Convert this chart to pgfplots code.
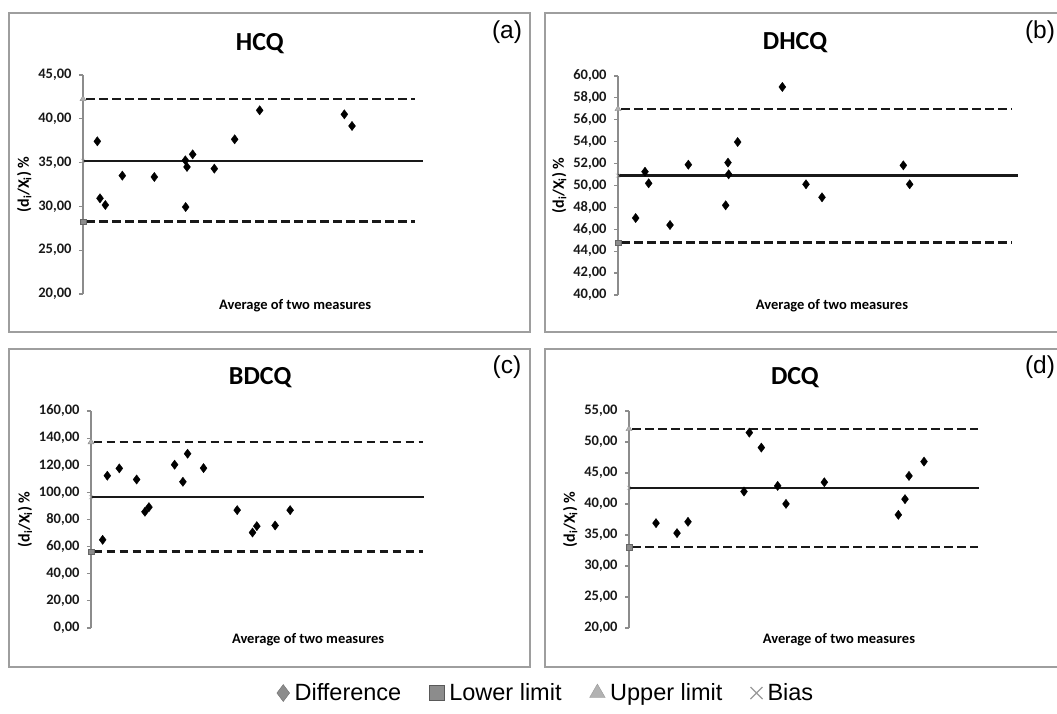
\documentclass[border=0pt]{standalone}
\usepackage{fontspec}
\setmainfont{Carlito}
\newfontfamily\arial{Liberation Sans}
\usepackage{pgfplots}
\pgfplotsset{compat=1.18}

\pgfplotsset{
  ba/.style={
    scale only axis, anchor=south west, clip=false,
    axis lines*=left, x axis line style={draw=none}, xtick=\empty, xmin=0,
    y axis line style={draw=black!45, line width=1.2pt},
    ytick style={draw=black!45, line width=1.2pt},
    tick align=outside, major tick length=4pt,
    yticklabel style={font=\bfseries\fontsize{14.5}{16}\selectfont, text=black!90, xshift=-4pt},
    /pgf/number format/fixed, /pgf/number format/fixed zerofill,
    /pgf/number format/precision=2, /pgf/number format/use comma,
    /pgf/number format/assume math mode=true,
    title style={font=\bfseries\fontsize{26}{28}\selectfont, anchor=center, yshift=0pt},
    xlabel={Average of two measures},
    xlabel style={font=\bfseries\fontsize{14.5}{16}\selectfont, anchor=center},
    ylabel={(d\textsubscript{i}/X\textsubscript{i}) \%},
    ylabel style={font=\bfseries\fontsize{16}{18}\selectfont},
  },
  diff/.style={only marks, mark=diamond*, mark size=4.6pt, black},
  lim/.style={black!90, line width=2.7pt, dash pattern=on 8.5pt off 4.5pt},
  bias/.style={black!90, line width=2.3pt},
  up/.style={only marks, mark=triangle*, mark size=3.5pt, draw=black!45, fill=black!30},
  lo/.style={only marks, mark=square*, mark size=2.8pt, draw=black!60, fill=black!45},
  bx/.style={only marks, mark=x, mark size=3pt, black!30},
}

\begin{document}
\begin{tikzpicture}
\path[use as bounding box] (0pt,0pt) rectangle (1057pt,713pt);

% frames
\draw[black!38, line width=1.3pt] (9pt,381pt) rectangle (530pt,700pt);
\draw[black!38, line width=1.3pt] (545pt,381pt) rectangle (1070pt,700pt);
\draw[black!38, line width=1.3pt] (9pt,46pt) rectangle (530pt,364pt);
\draw[black!38, line width=1.3pt] (545pt,46pt) rectangle (1070pt,364pt);

\node[font=\arial\fontsize{24.5}{28}\selectfont] at (507pt,681pt) {(a)};
\node[font=\arial\fontsize{24.5}{28}\selectfont] at (1040pt,681pt) {(b)};
\node[font=\arial\fontsize{24.5}{28}\selectfont] at (507pt,346pt) {(c)};
\node[font=\arial\fontsize{24.5}{28}\selectfont] at (1040pt,346pt) {(d)};

% (a) HCQ
\begin{axis}[ba, at={(83pt,419pt)}, width=340pt, height=219pt,
  xmax=102, ymin=20, ymax=45, ytick={20,25,...,45},
  title={HCQ}, title style={at={(axis description cs:0.52,1.118)}},
  xlabel style={at={(axis description cs:0.624,-0.055)}}]
\addplot[lim] coordinates {(1,42.26) (99.7,42.26)};
\addplot[lim] coordinates {(1,28.24) (99.7,28.24)};
\addplot[bias] coordinates {(0,35.2) (102,35.2)};
\addplot[up] coordinates {(0,42.26)};
\addplot[lo] coordinates {(0,28.24)};
\addplot[bx] coordinates {(0,35.2)};
\addplot[diff] coordinates {
(4.3,37.43) (5.1,30.92) (6.7,30.16) (11.8,33.51) (21.4,33.36)
(30.7,35.26) (31.2,34.50) (32.9,35.94) (30.8,29.93) (39.4,34.31)
(45.5,37.66) (53.0,40.97) (78.4,40.51) (80.7,39.18)};
\end{axis}

% (b) DHCQ
\begin{axis}[ba, at={(618pt,418pt)}, width=400pt, height=219pt,
  xmax=120, ymin=40, ymax=60, ytick={40,42,...,60},
  title={DHCQ}, title style={at={(axis description cs:0.4425,1.123)}},
  xlabel style={at={(axis description cs:0.535,-0.05)}}]
\addplot[lim] coordinates {(1,56.99) (118.2,56.99)};
\addplot[lim] coordinates {(1,44.78) (118.2,44.78)};
\addplot[bias] coordinates {(0,50.90) (120,50.90)};
\addplot[up] coordinates {(0,56.99)};
\addplot[lo] coordinates {(0,44.78)};
\addplot[bx] coordinates {(0,50.90)};
\addplot[diff] coordinates {
(5.3,47.03) (8.1,51.26) (9.2,50.20) (15.6,46.39) (21.1,51.90)
(32.3,48.19) (33.0,52.09) (33.2,51.02) (35.9,53.97) (49.3,59.00)
(56.4,50.11) (61.2,48.92) (85.6,51.84) (87.5,50.11)};
\end{axis}

% (c) BDCQ
\begin{axis}[ba, at={(91pt,85pt)}, width=333pt, height=217pt,
  xmax=100, ymin=0, ymax=160, ytick={0,20,...,160},
  title={BDCQ}, title style={at={(axis description cs:0.508,1.124)}},
  xlabel style={at={(axis description cs:0.652,-0.055)}}]
\addplot[lim] coordinates {(0.8,137.1) (99.8,137.1)};
\addplot[lim] coordinates {(0.8,56.4) (99.8,56.4)};
\addplot[bias] coordinates {(0,96.5) (100,96.5)};
\addplot[up] coordinates {(0,137.1)};
\addplot[lo] coordinates {(0,56.4)};
\addplot[bx] coordinates {(0,96.5)};
\addplot[diff] coordinates {
(3.5,65.0) (4.9,112.3) (8.5,117.7) (13.7,109.5) (16.2,85.7)
(17.4,89.1) (25.1,120.4) (27.6,107.8) (29.0,128.5) (33.8,117.9)
(43.9,86.9) (48.5,70.4) (49.8,75.1) (55.3,75.6) (59.8,86.9)};
\end{axis}

% (d) DCQ
\begin{axis}[ba, at={(629pt,85pt)}, width=350pt, height=217pt,
  xmax=105, ymin=20, ymax=55, ytick={20,25,...,55},
  title={DCQ}, title style={at={(axis description cs:0.474,1.124)}},
  xlabel style={at={(axis description cs:0.6,-0.055)}}]
\addplot[lim] coordinates {(1,52.1) (104.8,52.1)};
\addplot[lim] coordinates {(1,33.05) (104.8,33.05)};
\addplot[bias] coordinates {(0,42.6) (105,42.6)};
\addplot[up] coordinates {(0,52.1)};
\addplot[lo] coordinates {(0,33.05)};
\addplot[bx] coordinates {(0,42.6)};
\addplot[diff] coordinates {
(8.1,36.91) (14.4,35.30) (17.7,37.13) (34.5,42.01) (36.1,51.51)
(39.7,49.10) (44.6,42.92) (47.1,40.02) (58.6,43.51) (80.8,38.25)
(82.8,40.78) (84.0,44.53) (88.5,46.84)};
\end{axis}

% legend
\begin{axis}[hide axis, scale only axis, at={(0pt,0pt)}, anchor=south west,
  width=1057pt, height=713pt, xmin=0, xmax=1, ymin=0, ymax=1,
  legend columns=4,
  legend image code/.code={\draw[#1] plot coordinates {(0pt,0pt)};},
  legend style={at={(0.5166,0.028)}, anchor=center, draw=none, fill=none,
    font=\arial\fontsize{23.5}{26}\selectfont,
    /tikz/every odd column/.append style={column sep=3pt},
    /tikz/every even column/.append style={column sep=26pt}}]
\addlegendimage{only marks, mark=diamond*, mark size=8.5pt, draw=black!55, fill=black!45}
\addlegendentry{Difference}
\addlegendimage{only marks, mark=square*, mark size=7.5pt, draw=black!65, fill=black!45}
\addlegendentry{Lower limit}
\addlegendimage{only marks, mark=triangle*, mark size=9pt, draw=black!40, fill=black!30}
\addlegendentry{Upper limit}
\addlegendimage{only marks, mark=x, mark size=8.5pt, black!40, line width=1.3pt}
\addlegendentry{Bias}
\end{axis}
\end{tikzpicture}
\end{document}
